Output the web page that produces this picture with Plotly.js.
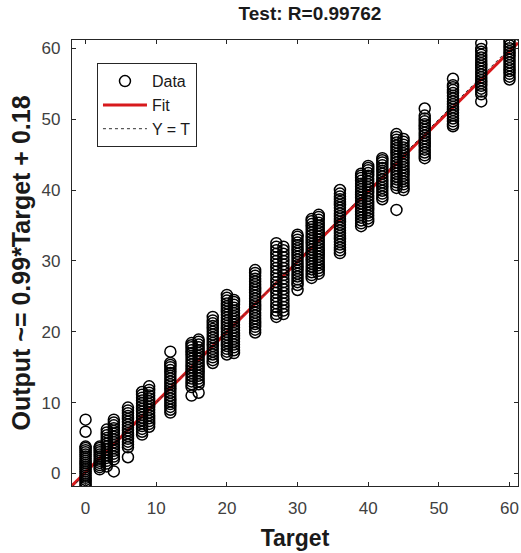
<!DOCTYPE html>
<html>
<head>
<meta charset="utf-8">
<script src="https://cdn.plot.ly/plotly-3.0.1.min.js"></script>
<style>
  html, body { margin: 0; padding: 0; background: #fff; }
  #chart { width: 521px; height: 553px; }
</style>
</head>
<body>
<div id="chart"></div>
<script>
// ---- data ----
const targetLevels = [0, 2, 3, 4, 6, 8, 9, 12, 15, 16, 18, 20, 21, 24, 27, 28, 30, 32, 33, 36, 39, 40, 42, 44, 45, 48, 52, 56, 60];
const outputsByTarget = [
  [-1.8,-1.5,-1.2,-0.9,-0.6,-0.3,0.0,0.3,0.6,0.9,1.2,1.5,1.8,2.1,2.4,2.7,3.0,3.3,3.6,3.8,5.9,7.6],
  [0.6,0.9,1.2,1.5,1.8,2.1,2.4,2.7,3.0,3.3,3.6,3.8],
  [1.0,1.4,1.8,2.2,2.6,3.0,3.4,3.8,4.2,4.6,5.0,5.4,5.8,6.2],
  [0.3,2.0,2.4,2.8,3.2,3.6,4.0,4.4,4.8,5.2,5.6,6.0,6.4,6.8,7.2,7.6],
  [2.3,3.7,4.1,4.5,4.9,5.3,5.7,6.1,6.5,6.9,7.3,7.7,8.1,8.5,8.9,9.3],
  [5.5,5.9,6.3,6.7,7.1,7.5,7.9,8.3,8.7,9.1,9.5,9.9,10.3,10.7,11.1,11.5],
  [6.6,7.0,7.4,7.8,8.2,8.6,9.0,9.4,9.8,10.2,10.6,11.0,11.4,11.8,12.3],
  [8.6,9.0,9.4,9.8,10.2,10.6,11.0,11.4,11.8,12.2,12.6,13.0,13.4,13.8,14.2,14.6,15.0,15.3,15.6,17.2],
  [11.0,12.2,12.6,13.0,13.4,13.8,14.2,14.6,15.0,15.4,15.8,16.2,16.6,17.0,17.4,17.8,18.1,18.4],
  [11.4,12.6,13.0,13.4,13.8,14.2,14.6,15.0,15.4,15.8,16.2,16.6,17.0,17.4,17.8,18.2,18.6,18.9],
  [15.6,16.0,16.4,16.8,17.2,17.6,18.0,18.4,18.8,19.2,19.6,20.0,20.4,20.8,21.2,21.6,22.1],
  [16.8,17.2,17.6,18.0,18.4,18.8,19.2,19.6,20.0,20.4,20.8,21.2,21.6,22.0,22.4,22.8,23.2,23.6,24.0,24.4,24.8,25.2],
  [17.0,17.4,17.8,18.2,18.6,19.0,19.4,19.8,20.2,20.6,21.0,21.4,21.8,22.2,22.6,23.0,23.4,23.8,24.2,24.5],
  [19.9,20.3,20.7,21.1,21.5,21.9,22.3,22.7,23.1,23.5,23.9,24.3,24.7,25.1,25.5,25.9,26.3,26.7,27.1,27.5,27.9,28.3,28.7],
  [22.1,22.5,23.0,23.5,24.0,24.5,25.0,25.5,26.0,26.5,27.0,27.5,28.0,28.5,29.0,29.5,30.0,30.5,31.0,31.5,32.0,32.5],
  [22.5,23.0,23.5,24.0,24.5,25.0,25.5,26.0,26.5,27.0,27.5,28.0,28.5,29.0,29.5,30.0,30.5,31.0,31.5,32.0],
  [25.9,26.6,27.0,27.4,27.8,28.2,28.6,29.0,29.4,29.8,30.2,30.6,31.0,31.4,31.8,32.2,32.6,33.0,33.4,33.7],
  [27.6,28.0,28.4,28.8,29.2,29.6,30.0,30.4,30.8,31.2,31.6,32.0,32.4,32.8,33.2,33.6,34.0,34.4,34.8,35.2,35.6,35.9],
  [28.2,28.6,29.0,29.4,29.8,30.2,30.6,31.0,31.4,31.8,32.2,32.6,33.0,33.4,33.8,34.2,34.6,35.0,35.4,35.8,36.2,36.5],
  [31.1,31.5,31.9,32.3,32.7,33.1,33.5,33.9,34.3,34.7,35.1,35.5,35.9,36.3,36.7,37.1,37.5,37.9,38.3,38.7,39.1,39.5,40.0],
  [34.9,35.3,35.7,36.1,36.5,36.9,37.3,37.7,38.1,38.5,38.9,39.3,39.7,40.1,40.5,40.9,41.3,41.7,42.0,42.3],
  [35.6,36.0,36.4,36.8,37.2,37.6,38.0,38.4,38.8,39.2,39.6,40.0,40.4,40.8,41.2,41.6,42.0,42.4,42.8,43.1,43.4],
  [38.7,39.1,39.5,39.9,40.3,40.7,41.1,41.5,41.9,42.3,42.7,43.1,43.5,43.9,44.2,44.5],
  [37.2,40.3,40.7,41.1,41.5,41.9,42.3,42.7,43.1,43.5,43.9,44.3,44.7,45.1,45.5,45.9,46.3,46.7,47.1,47.5,47.9],
  [40.0,40.4,40.8,41.2,41.6,42.0,42.4,42.8,43.2,43.6,44.0,44.4,44.8,45.2,45.6,46.0,46.4,46.8,47.2],
  [44.5,44.9,45.3,45.7,46.1,46.5,46.9,47.3,47.7,48.1,48.5,48.9,49.3,49.7,50.1,50.5,51.5],
  [49.0,49.3,49.7,50.1,50.5,50.9,51.3,51.7,52.1,52.5,52.9,53.3,53.7,54.1,54.5,54.8,55.7],
  [52.5,53.5,53.9,54.3,54.7,55.1,55.5,55.9,56.3,56.7,57.1,57.5,57.9,58.3,58.7,59.1,59.5,59.9,60.7],
  [55.6,56.0,56.4,56.8,57.2,57.6,58.0,58.4,58.8,59.2,59.6,60.0,60.4,60.8,61.2]
];
const fitSlope = 0.99;
const fitIntercept = 0.18;
const axisLimitsX = [-1.92, 61.2];
const axisLimitsY = [-1.76, 61.17];
const tickValues = [0, 10, 20, 30, 40, 50, 60];
const chartTitle = 'Test: R=0.99762';
const xTitle = 'Target';
const yTitle = 'Output ~= 0.99*Target + 0.18';

// ---- build traces ----
const dataX = [], dataY = [];
targetLevels.forEach((t, i) => {
  outputsByTarget[i].forEach(v => { dataX.push(t); dataY.push(v); });
});

const fitX = axisLimitsX.slice();
const fitY = fitX.map(x => fitSlope * x + fitIntercept);

const font = 'Liberation Sans, Arial, sans-serif';

const traces = [
  {
    x: fitX, y: fitY, mode: 'lines', name: 'Fit', legendrank: 2,
    line: { color: '#d7191c', width: 3 }, hoverinfo: 'skip'
  },
  {
    x: axisLimitsX, y: axisLimitsX, mode: 'lines', name: 'Y = T', legendrank: 3,
    line: { color: '#333333', width: 1, dash: 'dot' }, hoverinfo: 'skip'
  },
  {
    x: dataX, y: dataY, mode: 'markers', name: 'Data', legendrank: 1,
    marker: { symbol: 'circle-open', size: 11, color: '#000000', line: { width: 1.5, color: '#000000' } }
  }
];

const axisCommon = {
  showgrid: false, zeroline: false,
  showline: true, linecolor: '#262626', linewidth: 1.2, mirror: 'ticks',
  ticks: 'inside', ticklen: 4, tickwidth: 1, tickcolor: '#262626',
  tickvals: tickValues,
  tickfont: { family: font, size: 17, color: '#404040' }
};

const layout = {
  width: 521, height: 553,
  margin: { l: 72, r: 3, t: 40, b: 67 },
  paper_bgcolor: '#ffffff', plot_bgcolor: '#ffffff',
  title: {
    text: '<b>' + chartTitle + '</b>',
    font: { family: font, size: 19, color: '#1a1a1a' },
    x: 0.595, xanchor: 'center', y: 0.976, yanchor: 'middle'
  },
  xaxis: Object.assign({}, axisCommon, {
    range: axisLimitsX,
    ticklabelstandoff: 6,
    title: { text: '<b>' + xTitle + '</b>', font: { family: font, size: 23, color: '#1a1a1a' }, standoff: 13 }
  }),
  yaxis: Object.assign({}, axisCommon, {
    range: axisLimitsY,
    ticklabelstandoff: 7,
    title: { text: '<b>' + yTitle + '</b>', font: { family: font, size: 25, color: '#1a1a1a' }, standoff: 3 }
  }),
  showlegend: true,
  legend: {
    x: 0.056, y: 0.948, xanchor: 'left', yanchor: 'top',
    bgcolor: '#ffffff', bordercolor: '#262626', borderwidth: 1,
    font: { family: font, size: 16, color: '#1a1a1a' },
    tracegroupgap: 0, itemwidth: 44
  }
};

Plotly.newPlot('chart', traces, layout, { staticPlot: true, displayModeBar: false });
</script>
</body>
</html>
